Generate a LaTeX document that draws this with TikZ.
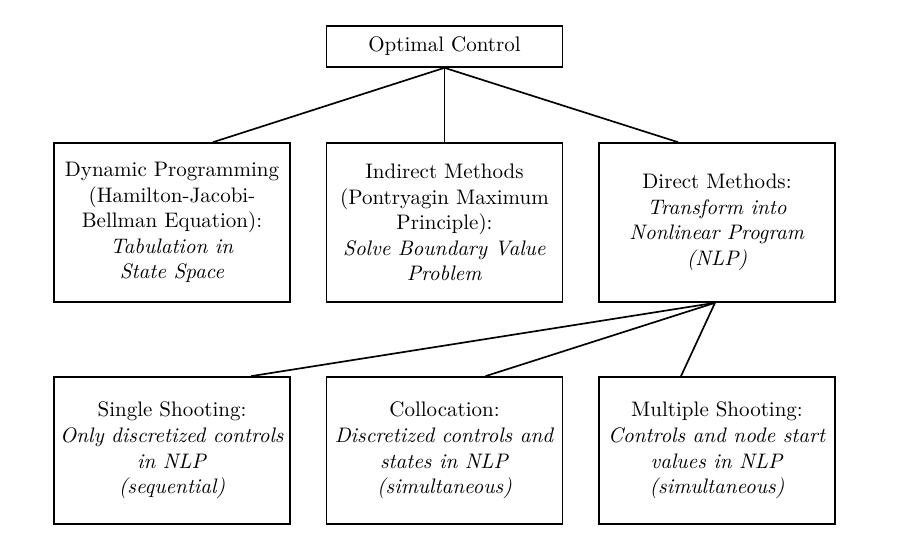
\documentclass[tikz,border=0pt]{standalone}
\usetikzlibrary{calc}
\begin{document}
\begin{tikzpicture}[x=0.47619pt,y=-0.47619pt,line width=0.8pt,
  box/.style={draw,line width=0.8pt,align=center,inner sep=0pt,minimum width=112.4pt,font=\fontsize{10}{12.2}\selectfont},
  midbox/.style={box,minimum height=75.7pt},
  lowbox/.style={box,minimum height=70pt},
  topbox/.style={box,minimum height=19.5pt}]
\useasboundingbox (0,0) rectangle (909,557);
\node[topbox] (oc) at (444.5,46.5) {Optimal Control};
\node[midbox] (dp) at (172,222.5) {Dynamic Programming\\(Hamilton-Jacobi-\\Bellman Equation):\\\textit{Tabulation in}\\\textit{State Space}};
\node[midbox] (im) at (444.5,222.5) {Indirect Methods\\(Pontryagin Maximum\\Principle):\\\textit{Solve Boundary Value}\\\textit{Problem}};
\node[midbox] (dm) at (717,222.5) {Direct Methods:\\\textit{Transform into}\\\textit{Nonlinear Program}\\\textit{(NLP)}};
\node[lowbox] (ss) at (172,450.5) {Single Shooting:\\\textit{Only discretized controls}\\\textit{in NLP}\\\textit{(sequential)}};
\node[lowbox] (col) at (444.5,450.5) {Collocation:\\\textit{Discretized controls and}\\\textit{states in NLP}\\\textit{(simultaneous)}};
\node[lowbox] (ms) at (717,450.5) {Multiple Shooting:\\\textit{Controls and node start}\\\textit{values in NLP}\\\textit{(simultaneous)}};
\draw (oc.south) -- ($(dp.north)+(41,0)$);
\draw (oc.south) -- (im.north);
\draw (oc.south) -- ($(dm.north)+(-39,0)$);
\draw ($(dm.south)+(-2,0)$) -- ($(ss.north)+(79,0)$);
\draw ($(dm.south)+(-2,0)$) -- ($(col.north)+(41,0)$);
\draw ($(dm.south)+(-2,0)$) -- ($(ms.north)+(-36,0)$);
\end{tikzpicture}
\end{document}
